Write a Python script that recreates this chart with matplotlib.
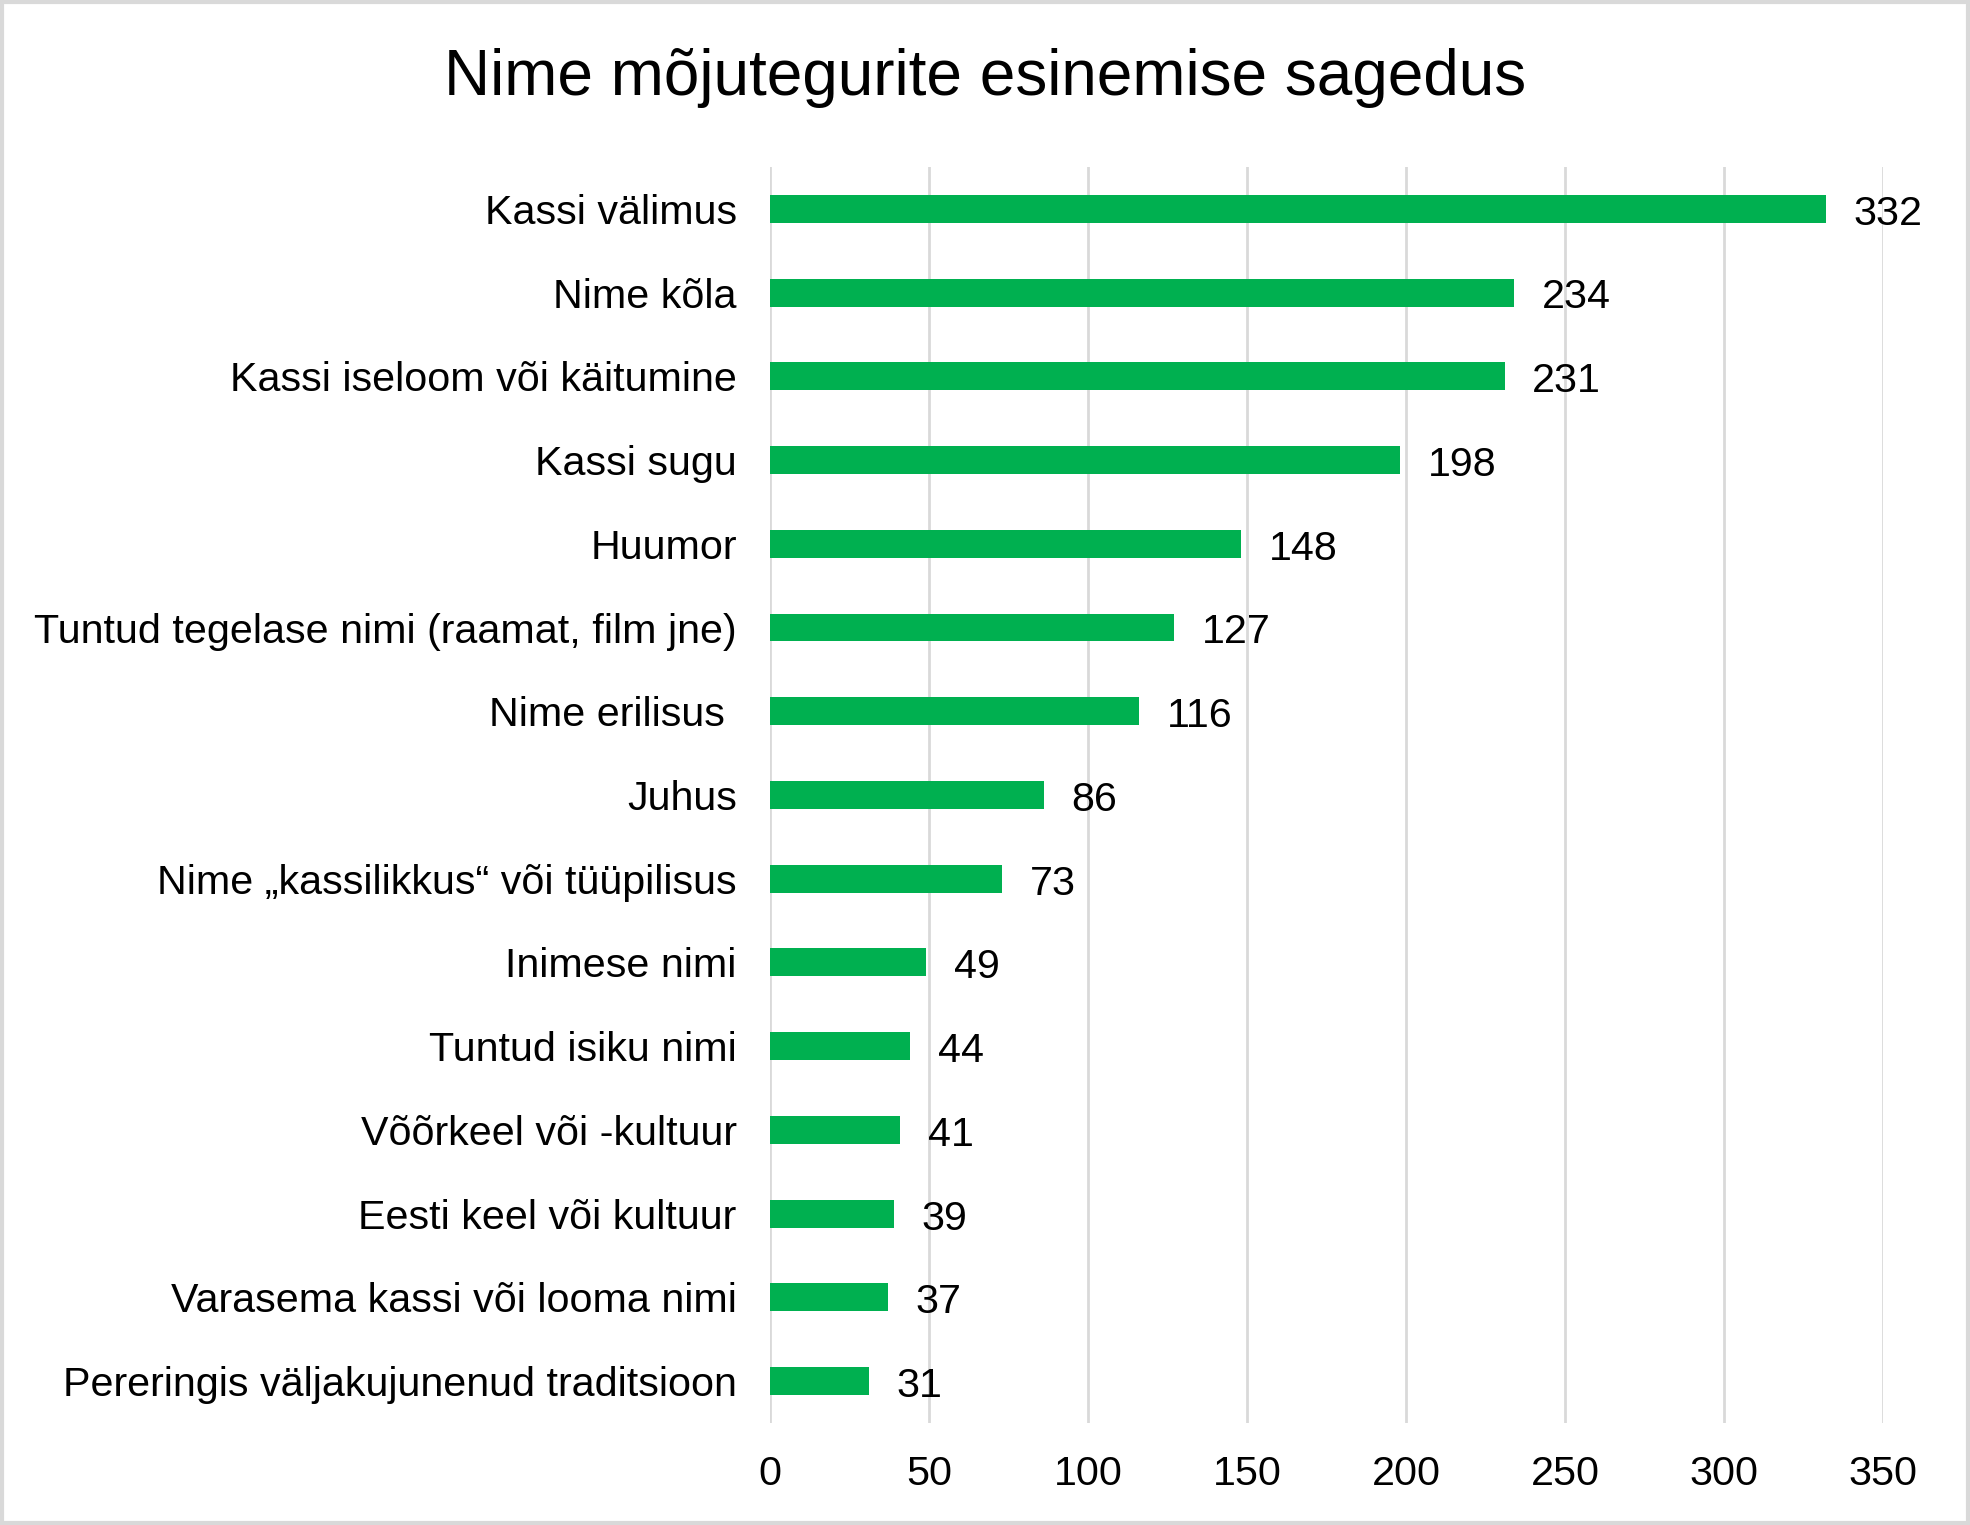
import matplotlib
matplotlib.use("Agg")
import matplotlib.pyplot as plt
from matplotlib.patches import Rectangle

categories = [
    "Kassi välimus",
    "Nime kõla",
    "Kassi iseloom või käitumine",
    "Kassi sugu",
    "Huumor",
    "Tuntud tegelase nimi (raamat, film jne)",
    "Nime erilisus ",
    "Juhus",
    "Nime „kassilikkus“ või tüüpilisus",
    "Inimese nimi",
    "Tuntud isiku nimi",
    "Võõrkeel või -kultuur",
    "Eesti keel või kultuur",
    "Varasema kassi või looma nimi",
    "Pereringis väljakujunenud traditsioon",
]
values = [332, 234, 231, 198, 148, 127, 116, 86, 73, 49, 44, 41, 39, 37, 31]
xticks = [0, 50, 100, 150, 200, 250, 300, 350]
title = "Nime mõjutegurite esinemise sagedus"

plt.rcParams['font.family'] = ['Liberation Sans', 'DejaVu Sans']

fig = plt.figure(figsize=(19.70, 15.25), dpi=100)
ax = fig.add_axes([0.3909, 0.0669, 0.9558 - 0.3909, 0.8905 - 0.0669])

ypos = list(range(len(categories)))
ax.barh(ypos, values, height=1/3, color="#00B050", zorder=3)
ax.set_ylim(len(categories) - 0.5, -0.5)
ax.set_xlim(0, 350)
ax.set_xticks(xticks)
ax.set_xticklabels([str(t) for t in xticks])
ax.set_yticks(ypos)
ax.set_yticklabels(categories)
ax.tick_params(axis='both', length=0, labelsize=29.7, colors='black')
ax.tick_params(axis='y', pad=24)
ax.tick_params(axis='x', pad=23)
for s in ax.spines.values():
    s.set_visible(False)
ax.grid(axis='x', color='#D9D9D9', linewidth=2, zorder=0)

for y, v in zip(ypos, values):
    ax.annotate(str(v), xy=(v, y), xytext=(20, -3.5), textcoords='offset points',
                va='center', ha='left', fontsize=29.7, color='black')

fig.text(0.5, 0.949, title, ha='center', va='center', fontsize=46, color='black')

fig.patches.append(Rectangle((0.001, 0.001), 0.998, 0.998, transform=fig.transFigure,
                             fill=False, edgecolor='#D9D9D9', linewidth=3))

fig.savefig("out.png", dpi=100, facecolor='white')
